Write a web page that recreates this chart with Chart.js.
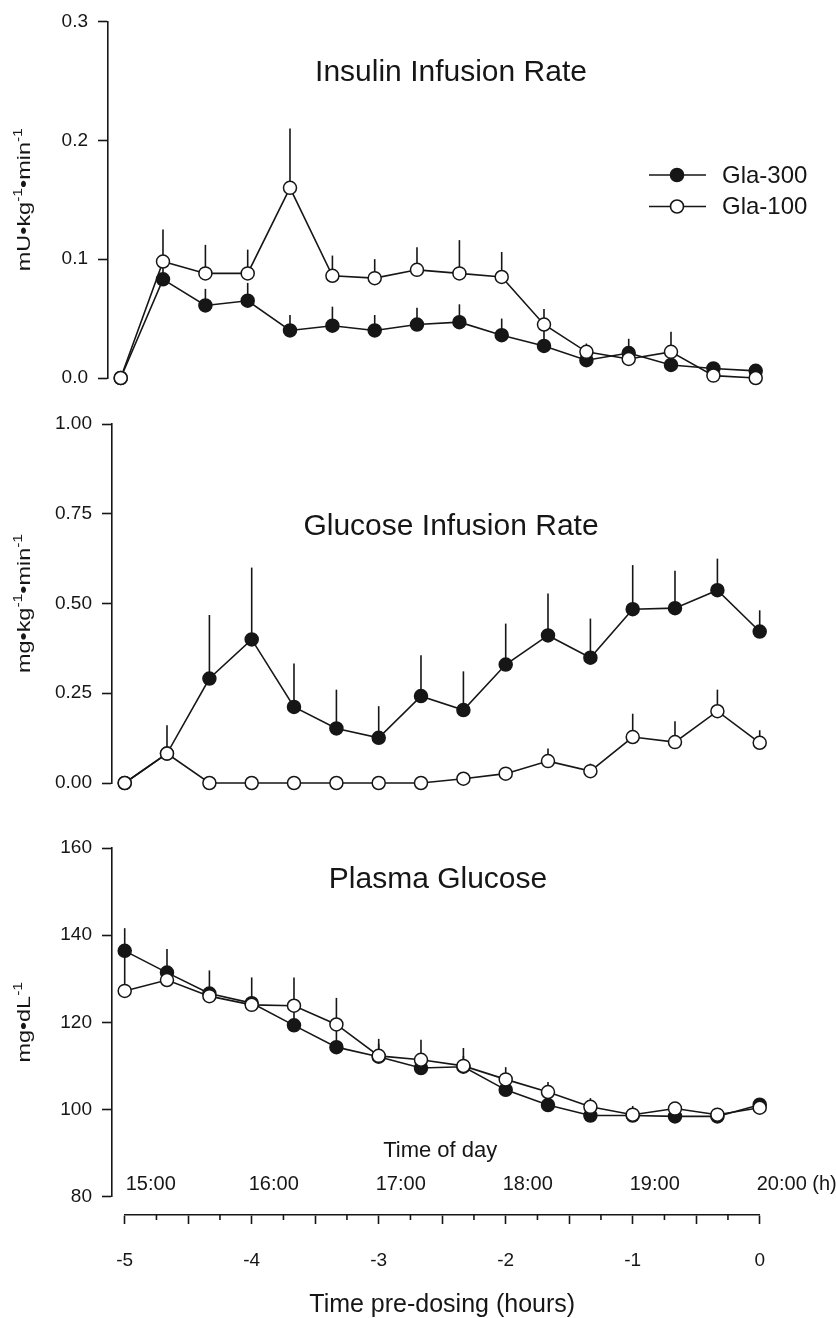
<!DOCTYPE html>
<html>
<head>
<meta charset="utf-8">
<script src="https://cdn.jsdelivr.net/npm/chart.js@4.4.1/dist/chart.umd.min.js"></script>
<style>
  html, body { margin: 0; padding: 0; background: #fff; overflow: hidden; }
  canvas { position: absolute; left: 0; }
</style>
</head>
<body>
<canvas id="insulin" width="836" height="400" style="top:0px"></canvas>
<canvas id="gir" width="836" height="410" style="top:400px"></canvas>
<canvas id="glucose" width="836" height="408" style="top:810px"></canvas>
<canvas id="timeAxis" width="836" height="130" style="top:1200px"></canvas>
<script>
// hours before dosing, one sample every 20 min
var hours = [-5, -4.667, -4.333, -4, -3.667, -3.333, -3, -2.667, -2.333, -2, -1.667, -1.333, -1, -0.667, -0.333, 0];
var hourTicks = [-5, -4, -3, -2, -1, 0];
var timeOfDay = ['15:00', '16:00', '17:00', '18:00', '19:00', '20:00 (h)'];

// Insulin infusion rate (mU/kg/min), mean and upper SE
var insulinGla300   = [0, 0.083, 0.061, 0.065, 0.040, 0.044, 0.040, 0.045, 0.047, 0.036, 0.027, 0.015, 0.021, 0.011, 0.008, 0.006];
var insulinGla300SE = [0, 0.012, 0.014, 0.015, 0.013, 0.016, 0.013, 0.014, 0.015, 0.014, 0.013, 0.005, 0.012, 0.004, 0.003, 0.002];
var insulinGla100   = [0, 0.098, 0.088, 0.088, 0.160, 0.086, 0.084, 0.091, 0.088, 0.085, 0.045, 0.022, 0.016, 0.022, 0.002, 0.000];
var insulinGla100SE = [0, 0.027, 0.024, 0.020, 0.050, 0.017, 0.016, 0.019, 0.028, 0.021, 0.013, 0.007, 0.004, 0.017, 0.002, 0.001];

// Glucose infusion rate (mg/kg/min)
var girGla300   = [0, 0.082, 0.291, 0.400, 0.212, 0.152, 0.126, 0.242, 0.203, 0.330, 0.411, 0.349, 0.484, 0.487, 0.537, 0.422];
var girGla300SE = [0, 0.079, 0.177, 0.200, 0.121, 0.108, 0.088, 0.114, 0.108, 0.114, 0.117, 0.109, 0.123, 0.104, 0.088, 0.059];
var girGla100   = [0, 0.082, 0, 0, 0, 0, 0, 0, 0.012, 0.026, 0.061, 0.033, 0.128, 0.114, 0.200, 0.112];
var girGla100SE = [0, 0.010, 0, 0, 0, 0, 0, 0, 0.005, 0.006, 0.035, 0.021, 0.065, 0.058, 0.060, 0.035];

// Plasma glucose (mg/dL)
var pgGla300   = [136.4, 131.4, 126.6, 124.4, 119.3, 114.3, 112.1, 109.5, 109.8, 104.5, 101.0, 98.6, 98.6, 98.4, 98.4, 101.1];
var pgGla300SE = [5.2, 5.4, 5.3, 5.9, 5.0, 5.5, 3.0, 2.5, 2.5, 2.0, 2.0, 1.5, 1.5, 1.5, 1.0, 1.0];
var pgGla100   = [127.2, 129.7, 126.0, 124.0, 123.8, 119.5, 112.3, 111.4, 110.0, 106.9, 104.0, 100.6, 98.8, 100.2, 98.8, 100.4];
var pgGla100SE = [9.0, 2.0, 2.0, 2.0, 6.5, 6.1, 3.9, 4.6, 4.1, 2.8, 2.3, 2.0, 2.0, 1.5, 1.0, 1.0];

var INK = '#161616';
var FONT = "'Liberation Sans', Arial, Helvetica, sans-serif";

function points(ys) {
  return hours.map(function (h, i) { return { x: h, y: ys[i] }; });
}

// upper error bars, drawn under the markers
var errorBars = {
  id: 'errorBars',
  beforeDatasetsDraw: function (chart) {
    var ctx = chart.ctx, xs = chart.scales.x, ys = chart.scales.y;
    ctx.save();
    ctx.strokeStyle = INK;
    ctx.lineWidth = 1.6;
    chart.data.datasets.forEach(function (ds) {
      ds.data.forEach(function (p, i) {
        if (!ds.se[i]) return;
        var x = xs.getPixelForValue(p.x);
        ctx.beginPath();
        ctx.moveTo(x, ys.getPixelForValue(p.y));
        ctx.lineTo(x, ys.getPixelForValue(p.y + ds.se[i]));
        ctx.stroke();
      });
    });
    ctx.restore();
  }
};

// panel title, y-axis unit with superscripts, legend, time-of-day row
var panelText = {
  id: 'panelText',
  afterDraw: function (chart, args, o) {
    var ctx = chart.ctx, area = chart.chartArea, xs = chart.scales.x;
    ctx.save();
    ctx.fillStyle = INK;

    ctx.font = '30px ' + FONT;
    ctx.textAlign = 'center';
    ctx.textBaseline = 'alphabetic';
    ctx.fillText(o.title, o.titleX, o.titleY);

    // rotated unit label
    var segs = o.unit, total = 0;
    segs.forEach(function (s) {
      ctx.font = (s[1] ? 12 : 18) + 'px ' + FONT;
      s.w = ctx.measureText(s[0]).width;
      total += s.w;
    });
    ctx.save();
    ctx.translate(30, (area.top + area.bottom) / 2);
    ctx.rotate(-Math.PI / 2);
    ctx.scale(1.3, 1);
    ctx.textAlign = 'left';
    var x = -total / 2;
    segs.forEach(function (s) {
      ctx.font = (s[1] ? 12 : 18) + 'px ' + FONT;
      ctx.fillText(s[0], x, s[1] ? -8 : 0);
      x += s.w;
    });
    ctx.restore();

    if (o.legend) {
      var ds = chart.data.datasets;
      [0, 1].forEach(function (k, row) {
        var d = ds[k], y = 175 + row * 31.5;
        ctx.strokeStyle = INK;
        ctx.lineWidth = 1.6;
        ctx.beginPath();
        ctx.moveTo(649, y);
        ctx.lineTo(706, y);
        ctx.stroke();
        ctx.beginPath();
        ctx.arc(677, y, 6.5, 0, Math.PI * 2);
        ctx.fillStyle = d.pointBackgroundColor;
        ctx.fill();
        ctx.stroke();
        ctx.fillStyle = INK;
        ctx.font = '24px ' + FONT;
        ctx.textAlign = 'left';
        ctx.textBaseline = 'middle';
        ctx.fillText(d.label, 722, y + 1);
      });
    }

    if (o.timeOfDay) {
      var x0 = xs.getPixelForValue(hourTicks[0]);
      var x1 = xs.getPixelForValue(hourTicks[hourTicks.length - 1]);
      ctx.textBaseline = 'alphabetic';
      ctx.font = '22px ' + FONT;
      ctx.textAlign = 'center';
      ctx.fillText('Time of day', (x0 + x1) / 2 - 2, 347);
      ctx.font = '20px ' + FONT;
      ctx.textAlign = 'left';
      hourTicks.forEach(function (h, i) {
        var px = Math.max(xs.getPixelForValue(h) - 3, x0 + 1);
        ctx.fillText(timeOfDay[i], px, 380);
      });
    }
    ctx.restore();
  }
};

function panel(id, cfg) {
  var common = {
    borderColor: INK,
    borderWidth: 1.6,
    pointRadius: 6.5,
    pointBorderWidth: 1.5,
    pointBorderColor: INK,
    tension: 0,
    clip: false
  };
  return new Chart(document.getElementById(id), {
    type: 'line',
    data: {
      datasets: [
        Object.assign({ label: 'Gla-300', data: points(cfg.g300), se: cfg.g300se,
          pointBackgroundColor: INK, backgroundColor: INK, order: 2 }, common),
        Object.assign({ label: 'Gla-100', data: points(cfg.g100), se: cfg.g100se,
          pointBackgroundColor: '#ffffff', backgroundColor: '#ffffff', order: 1 }, common)
      ]
    },
    options: {
      responsive: false,
      animation: false,
      events: [],
      layout: { padding: cfg.padding },
      plugins: {
        legend: { display: false },
        tooltip: { enabled: false },
        panelText: cfg.text
      },
      scales: {
        x: { type: 'linear', min: -5.1, max: 0, display: false },
        y: {
          min: cfg.min, max: cfg.max,
          afterFit: function (s) { s.width = cfg.axisX; },
          ticks: {
            stepSize: cfg.step,
            padding: 10,
            color: INK,
            font: { family: FONT, size: 19 },
            callback: function (v) { return v.toFixed(cfg.digits); }
          },
          grid: { drawOnChartArea: false, tickLength: 10, tickColor: INK, tickWidth: 1.6 },
          border: { color: INK, width: 1.6 }
        }
      }
    },
    plugins: [errorBars, panelText]
  });
}

panel('insulin', {
  g300: insulinGla300, g300se: insulinGla300SE, g100: insulinGla100, g100se: insulinGla100SE,
  min: 0, max: 0.3, step: 0.1, digits: 1, axisX: 108,
  padding: { left: 0, right: 80.3, top: 19, bottom: 22 },
  text: { title: 'Insulin Infusion Rate', titleX: 451, titleY: 81, legend: true,
    unit: [['mU•kg', 0], ['-1', 1], ['•min', 0], ['-1', 1]] }
});

panel('gir', {
  g300: girGla300, g300se: girGla300SE, g100: girGla100, g100se: girGla100SE,
  min: 0, max: 1, step: 0.25, digits: 2, axisX: 112,
  padding: { left: 0, right: 76.3, top: 24, bottom: 27 },
  text: { title: 'Glucose Infusion Rate', titleX: 451, titleY: 135,
    unit: [['mg•kg', 0], ['-1', 1], ['•min', 0], ['-1', 1]] }
});

panel('glucose', {
  g300: pgGla300, g300se: pgGla300SE, g100: pgGla100, g100se: pgGla100SE,
  min: 80, max: 160, step: 20, digits: 0, axisX: 112,
  padding: { left: 0, right: 76.3, top: 38, bottom: 12 },
  text: { title: 'Plasma Glucose', titleX: 438, titleY: 78, timeOfDay: true,
    unit: [['mg•dL', 0], ['-1', 1]] }
});

// shared hour axis under the plasma glucose panel, detached from it
var quarterTicks = {
  id: 'quarterTicks',
  afterDraw: function (chart) {
    var ctx = chart.ctx, xs = chart.scales.x, y = chart.chartArea.bottom;
    ctx.save();
    ctx.strokeStyle = INK;
    ctx.lineWidth = 1.6;
    for (var v = xs.min + 0.25; v < xs.max; v += 0.5) {
      var px = xs.getPixelForValue(v);
      ctx.beginPath();
      ctx.moveTo(px, y);
      ctx.lineTo(px, y + 5);
      ctx.stroke();
    }
    ctx.restore();
  }
};

new Chart(document.getElementById('timeAxis'), {
  type: 'line',
  data: { datasets: [] },
  options: {
    responsive: false,
    animation: false,
    events: [],
    layout: { padding: { left: 124.7, right: 76.3, top: 5, bottom: 0 } },
    plugins: { legend: { display: false }, tooltip: { enabled: false } },
    scales: {
      x: {
        type: 'linear', min: -5, max: 0,
        afterFit: function (s) { s.height = 115; },
        ticks: {
          stepSize: 0.5, autoSkip: false, maxRotation: 0, padding: 25,
          color: INK, font: { family: FONT, size: 19 },
          callback: function (v) { return hourTicks.indexOf(v) >= 0 ? String(v) : ''; }
        },
        grid: { drawOnChartArea: false, tickLength: 9, tickColor: INK, tickWidth: 1.6 },
        border: { color: INK, width: 1.6 },
        title: {
          display: true, text: 'Time pre-dosing (hours)', color: INK,
          font: { family: FONT, size: 25 }, padding: { top: 0, bottom: 10 }
        }
      },
      y: { display: false }
    }
  },
  plugins: [quarterTicks]
});
</script>
</body>
</html>
